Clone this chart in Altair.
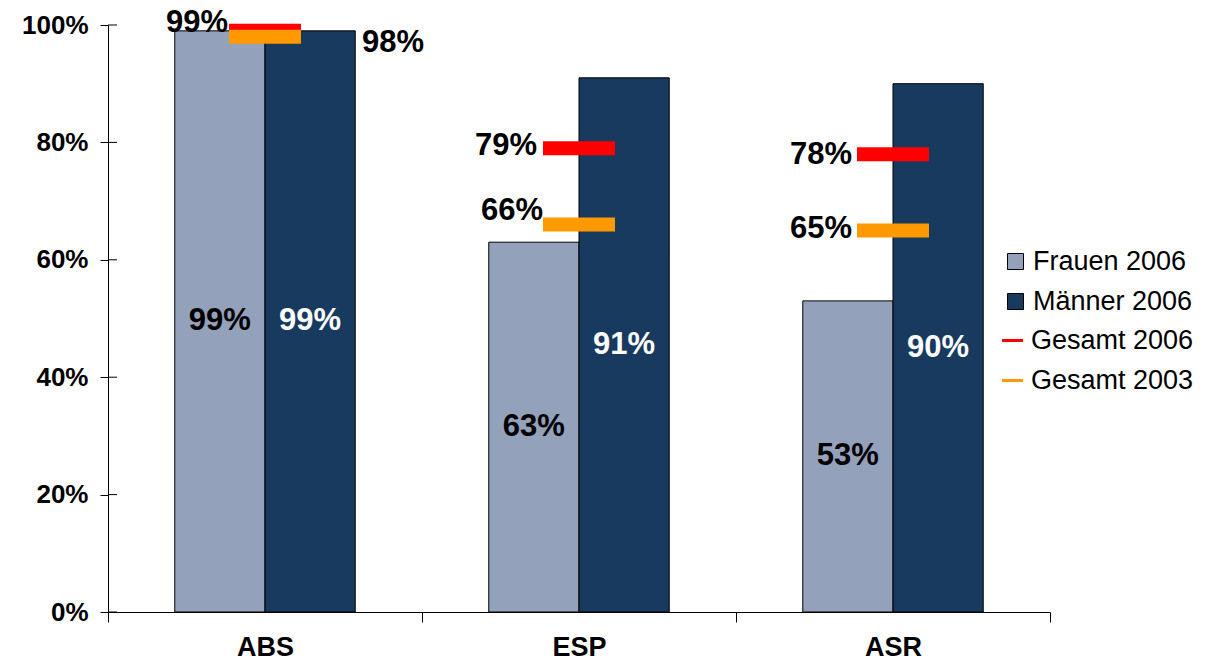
import altair as alt
import pandas as pd

FONT = "Liberation Sans"

categories = ["ABS", "ESP", "ASR"]
frauen_2006 = [99, 63, 53]
maenner_2006 = [99, 91, 90]
gesamt_2006 = [99, 79, 78]
gesamt_2003 = [98, 66, 65]
bar_series = ["Frauen 2006", "Männer 2006"]
bar_colors = ["#94A1BA", "#173A5E"]
line_series = ["Gesamt 2006", "Gesamt 2003"]
line_colors = ["#FF0000", "#FF9900"]
y_ticks = [0, 20, 40, 60, 80, 100]

bars_df = pd.DataFrame({
    "cat": categories * 2,
    "series": [bar_series[0]] * 3 + [bar_series[1]] * 3,
    "value": frauen_2006 + maenner_2006,
})
marks_df = pd.DataFrame({
    "cat": categories * 2,
    "series": [line_series[0]] * 3 + [line_series[1]] * 3,
    "value": gesamt_2006 + gesamt_2003,
})
ticks_df = pd.DataFrame({"value": y_ticks})

yscale = alt.Scale(domain=[0, 100], nice=False)
yaxis = alt.Axis(values=y_ticks, labelExpr="datum.value + '%'", title=None, grid=False,
                 tickSize=8, labelPadding=12, labelFont=FONT, labelFontSize=26,
                 labelFontWeight="bold", labelColor="black", domainColor="black",
                 tickColor="black", labelBaseline="middle", labelAlign="right")
xscale = alt.Scale(domain=categories, paddingInner=0, paddingOuter=0)
xaxis = alt.Axis(title=None, tickBand="extent", tickSize=10, labelPadding=33, labelAngle=0,
                 labelFontSize=27, labelFontWeight="bold", labelFont=FONT, labelColor="black",
                 domainColor="black", tickColor="black", labelBaseline="alphabetic")
offset_scale = alt.Scale(domain=bar_series, paddingOuter=0.74, paddingInner=0)

fill_legend = alt.Legend(
    title=None, orient="none", legendX=894, legendY=223, labelFont=FONT, labelFontSize=27,
    labelColor="black", rowPadding=12, labelOffset=4, padding=0, symbolType="square",
    symbolSize=256, symbolStrokeColor="black", symbolStrokeWidth=1, symbolOpacity=1,
    labelLimit=400,
)
stroke_legend = alt.Legend(
    title=None, orient="none", legendX=891, legendY=302, labelFont=FONT, labelFontSize=27,
    labelColor="black", rowPadding=12, labelOffset=5, padding=0, symbolType="stroke",
    symbolSize=441, symbolStrokeWidth=3, symbolOpacity=1, labelLimit=400,
)

X = alt.X("cat:N", scale=xscale, axis=xaxis)
Y = alt.Y("value:Q", scale=yscale, axis=yaxis)

bars = alt.Chart(bars_df).mark_bar(stroke="black", strokeWidth=1).encode(
    x=X,
    xOffset=alt.XOffset("series:N", scale=offset_scale),
    y=Y,
    fill=alt.Fill("series:N", scale=alt.Scale(domain=bar_series, range=bar_colors), legend=fill_legend),
)

inner_ticks = alt.Chart(ticks_df).mark_rule(color="black", strokeWidth=1).encode(
    x=alt.value(0), x2=alt.value(9), y=Y,
)

markers = alt.Chart(marks_df).mark_tick(size=72, thickness=14, opacity=1).encode(
    x=X, y=Y,
    color=alt.Color("series:N", scale=alt.Scale(domain=line_series, range=line_colors), legend=None),
)

# single point per series -> no visible line, only provides the stroke legend
legend_lines = alt.Chart(marks_df).transform_filter(alt.datum.cat == categories[0]).mark_line(
    strokeWidth=3
).encode(
    x=X, y=Y,
    stroke=alt.Stroke("series:N", scale=alt.Scale(domain=line_series, range=line_colors), legend=stroke_legend),
)


def bar_label(series, color):
    return alt.Chart(bars_df).transform_filter(alt.datum.series == series).transform_calculate(
        mid="datum.value / 2", label="datum.value + '%'"
    ).mark_text(fontSize=31, fontWeight="bold", font=FONT, color=color, baseline="middle").encode(
        x=X,
        xOffset=alt.XOffset("series:N", scale=offset_scale),
        y=alt.Y("mid:Q", scale=yscale, axis=yaxis),
        text="label:N",
    )


def gesamt_label(series, cat, dx, dy, align):
    return alt.Chart(marks_df).transform_filter(
        (alt.datum.series == series) & (alt.datum.cat == cat)
    ).transform_calculate(label="datum.value + '%'").mark_text(
        dx=dx, dy=dy, align=align, baseline="middle", fontSize=31, fontWeight="bold",
        font=FONT, color="black"
    ).encode(x=X, y=Y, text="label:N")


layers = [
    bars, inner_ticks, legend_lines, markers,
    bar_label(bar_series[0], "black"),
    bar_label(bar_series[1], "white"),
    gesamt_label(line_series[0], "ABS", -37, -8, "right"),
    gesamt_label(line_series[0], "ESP", -42, -2, "right"),
    gesamt_label(line_series[0], "ASR", -41, 1, "right"),
    gesamt_label(line_series[1], "ABS", 97, 6, "left"),
    gesamt_label(line_series[1], "ESP", -36, -14, "right"),
    gesamt_label(line_series[1], "ASR", -41, -1, "right"),
]

chart = alt.layer(*layers).properties(
    width=942, height=587,
    padding={"left": 100, "top": 17, "right": 155, "bottom": 49},
    autosize=alt.AutoSizeParams(type="none"),
    background="white",
).configure_view(stroke=None)

chart.save("out.html", embed_options={"renderer": "svg", "actions": False})
